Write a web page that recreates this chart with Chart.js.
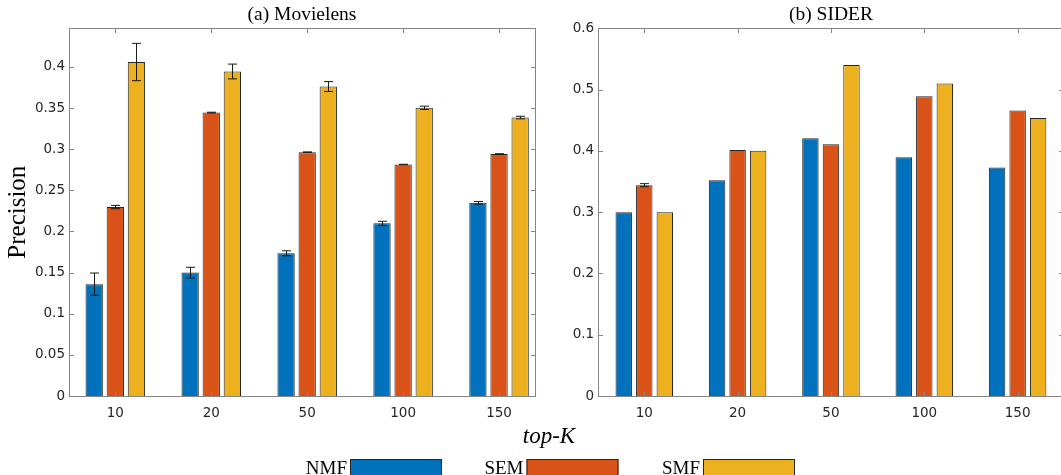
<!DOCTYPE html>
<html><head><meta charset="utf-8">
<script src="https://cdn.jsdelivr.net/npm/chart.js@4/dist/chart.umd.min.js"></script>
<style>
html,body{margin:0;padding:0;background:#fff;overflow:hidden;width:1061px;height:475px;position:relative}
#c1{position:absolute;left:0;top:0}
#c2{position:absolute;left:540px;top:0}
</style></head><body>
<canvas id="c1" width="1061" height="475"></canvas>
<canvas id="c2" width="545" height="475"></canvas>
<script>
// ---- data ----
const categories = ['10', '20', '50', '100', '150'];
const seriesNames = ['NMF', 'SEM', 'SMF'];
const seriesColors = ['#0072BD', '#D95319', '#EDB120'];

// (a) Movielens
const mlNMF = [0.136, 0.150, 0.1735, 0.210, 0.2348];
const mlSEM = [0.2297, 0.3445, 0.2964, 0.2814, 0.2942];
const mlSMF = [0.406, 0.3945, 0.3762, 0.3503, 0.3385];
const mlErrNMF = [0.0135, 0.0065, 0.003, 0.0024, 0.0016];
const mlErrSEM = [0.002, 0.0005, 0.0003, 0.0003, 0.0003];
const mlErrSMF = [0.0227, 0.009, 0.006, 0.002, 0.0016];
const mlTicks = [0, 0.05, 0.1, 0.15, 0.2, 0.25, 0.3, 0.35, 0.4];
const mlTickLabels = ['0', '0.05', '0.1', '0.15', '0.2', '0.25', '0.3', '0.35', '0.4'];

// (b) SIDER
const sdNMF = [0.300, 0.352, 0.4205, 0.3895, 0.373];
const sdSEM = [0.344, 0.4014, 0.4107, 0.489, 0.466];
const sdSMF = [0.300, 0.400, 0.540, 0.510, 0.4536];
const sdErrNMF = [0, 0, 0, 0, 0];
const sdErrSEM = [0.0025, 0, 0, 0, 0];
const sdErrSMF = [0, 0, 0, 0, 0];
const sdTicks = [0, 0.1, 0.2, 0.3, 0.4, 0.5, 0.6];
const sdTickLabels = ['0', '0.1', '0.2', '0.3', '0.4', '0.5', '0.6'];

const xTitle = 'top-K';
const yTitle = 'Precision';

// ---- plugins ----
const errorBars = {
  id: 'errorBars',
  afterDatasetsDraw(chart) {
    const ctx = chart.ctx, y = chart.scales.y;
    ctx.save();
    ctx.strokeStyle = '#1a1a1a';
    ctx.lineWidth = 1;
    chart.data.datasets.forEach((ds, di) => {
      const meta = chart.getDatasetMeta(di);
      meta.data.forEach((bar, i) => {
        const e = ds.errors[i];
        if (!e) return;
        const v = ds.data[i].y;
        const x = Math.round(bar.x) + 0.5;
        const p1 = y.getPixelForValue(v + e), p2 = y.getPixelForValue(v - e);
        ctx.beginPath();
        ctx.moveTo(x, p1); ctx.lineTo(x, p2);
        ctx.moveTo(x - 4.5, p1); ctx.lineTo(x + 4.5, p1);
        ctx.moveTo(x - 4.5, p2); ctx.lineTo(x + 4.5, p2);
        ctx.stroke();
      });
    });
    ctx.restore();
  }
};

const frame = {
  id: 'frame',
  afterDraw(chart, args, opts) {
    const {ctx, chartArea: a} = chart;
    const x = chart.scales.x, y = chart.scales.y;
    ctx.save();
    ctx.strokeStyle = '#868686';
    ctx.lineWidth = 1;
    const L = Math.round(a.left) + 0.5, R = Math.round(a.right) - 0.5;
    const T = Math.round(a.top) + 0.5, B = Math.round(a.bottom) + 0.5;
    ctx.strokeRect(L, T, R - L, B - T);
    ctx.beginPath();
    x.ticks.forEach(t => {
      const px = Math.round(x.getPixelForValue(t.value)) + 0.5;
      ctx.moveTo(px, B); ctx.lineTo(px, B - 4.5);
      ctx.moveTo(px, T); ctx.lineTo(px, T + 4.5);
    });
    y.ticks.forEach(t => {
      const py = Math.round(y.getPixelForValue(t.value)) + 0.5;
      ctx.moveTo(L, py); ctx.lineTo(L + 4.5, py);
      ctx.moveTo(R, py); ctx.lineTo(R - 4.5, py);
    });
    ctx.stroke();
    ctx.fillStyle = '#000';
    ctx.font = '19.5px "Liberation Serif"';
    ctx.textAlign = 'center';
    ctx.textBaseline = 'middle';
    ctx.fillText(opts.title, (a.left + a.right) / 2, 15);
    ctx.restore();
  }
};

const figureExtras = {
  id: 'figureExtras',
  afterDraw(chart, args, opts) {
    if (!opts.show) return;
    const ctx = chart.ctx;
    ctx.save();
    ctx.fillStyle = '#000';
    ctx.font = 'italic 23px "Liberation Serif"';
    ctx.textAlign = 'center';
    ctx.textBaseline = 'middle';
    ctx.fillText(xTitle, 549, 437);
    ctx.font = '19px "Liberation Serif"';
    ctx.textAlign = 'right';
    ctx.textBaseline = 'alphabetic';
    chart.data.datasets.forEach((ds, i) => {
      const bx = 350 + i * 176.5;
      ctx.fillStyle = '#000';
      ctx.fillText(ds.label, bx - 3, 474);
      ctx.fillStyle = ds.backgroundColor;
      ctx.fillRect(bx, 459, 92, 20);
      ctx.strokeStyle = '#262626';
      ctx.lineWidth = 1;
      ctx.strokeRect(bx + 0.5, 459.5, 91, 20);
    });
    ctx.restore();
  }
};

function makePanel(canvas, series, errs, ticks, tickLabels, cfg) {
  const datasets = series.map((vals, s) => ({
    label: seriesNames[s],
    data: vals.map((v, i) => ({x: i + 1, y: v})),
    errors: errs[s],
    backgroundColor: seriesColors[s],
    borderColor: '#262626',
    borderWidth: 1,
    categoryPercentage: 0.66,
    barPercentage: cfg.barPct
  }));
  return new Chart(canvas, {
    type: 'bar',
    data: {datasets},
    options: {
      responsive: false,
      animation: false,
      layout: {padding: cfg.padding},
      plugins: {
        legend: {display: false},
        tooltip: {enabled: false},
        frame: {title: cfg.title},
        figureExtras: {show: cfg.extras}
      },
      scales: {
        x: {
          type: 'linear', min: cfg.xmin, max: cfg.xmax, offset: false,
          afterBuildTicks: s => { s.ticks = categories.map((c, i) => ({value: i + 1})); },
          afterFit: s => { s.height = 30; },
          ticks: {
            callback: v => categories[v - 1] ?? '',
            autoSkip: false, maxRotation: 0, padding: 9, color: '#262626',
            font: {family: 'DejaVu Sans', size: 13.5}
          },
          grid: {display: false, drawTicks: false},
          border: {display: false}
        },
        y: {
          min: 0, max: cfg.ymax,
          afterBuildTicks: s => { s.ticks = ticks.map(v => ({value: v})); },
          afterFit: s => { s.width = cfg.yw; },
          ticks: {
            callback: (v, i) => tickLabels[i],
            autoSkip: false, padding: 3.5, color: '#262626',
            font: {family: 'DejaVu Sans', size: 13.5}
          },
          grid: {display: false, drawTicks: false},
          border: {display: false},
          title: {
            display: !!cfg.ytitle, text: cfg.ytitle || '',
            color: '#000', font: {family: 'Liberation Serif', size: 25},
            padding: {top: 3, bottom: 0}
          }
        }
      }
    },
    plugins: [errorBars, frame, figureExtras]
  });
}

makePanel(document.getElementById('c1'),
  [mlNMF, mlSEM, mlSMF], [mlErrNMF, mlErrSEM, mlErrSMF], mlTicks, mlTickLabels,
  {title: '(a) Movielens', ymax: 0.447, xmin: 0.512, xmax: 5.38, yw: 68.5,
   ytitle: yTitle, extras: true, barPct: 0.82,
   padding: {left: 0, top: 28.3, right: 1061 - 535.5, bottom: 49}});

makePanel(document.getElementById('c2'),
  [sdNMF, sdSEM, sdSMF], [sdErrNMF, sdErrSEM, sdErrSMF], sdTicks, sdTickLabels,
  {title: '(b) SIDER', ymax: 0.6, xmin: 0.5, xmax: 5.5, yw: 57.6,
   ytitle: '', extras: false, barPct: 0.8,
   padding: {left: 0, top: 28.3, right: 545 - 524.3, bottom: 49}});
</script>
</body></html>
